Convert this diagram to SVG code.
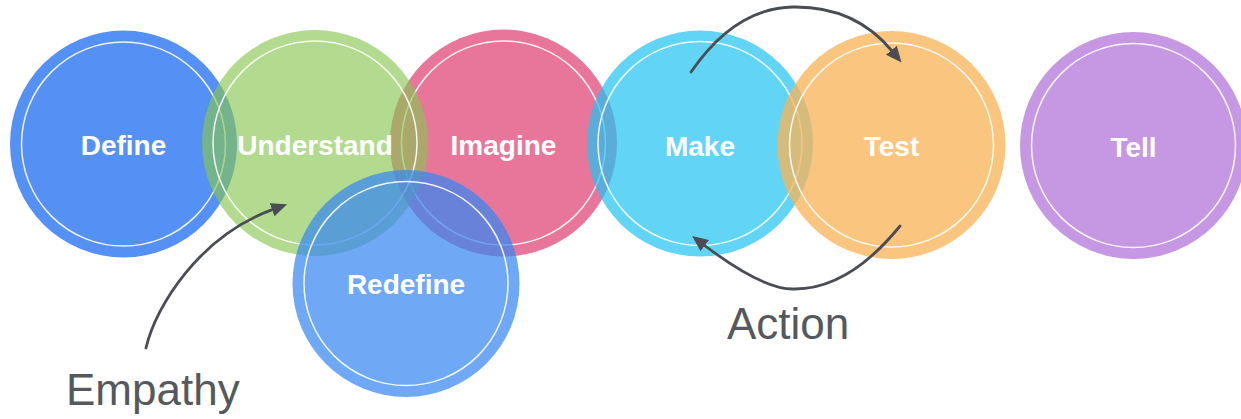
<svg xmlns="http://www.w3.org/2000/svg" width="1241" height="419" viewBox="0 0 1241 419">
<defs>
<style>
.fill{stroke:none}
.ring{fill:none;stroke:#ffffff;stroke-width:1.5;stroke-opacity:0.9}
.lbl{font-family:"Liberation Sans",Arial,Helvetica,sans-serif;font-weight:bold;font-size:28px;fill:#ffffff;text-anchor:middle}
.cap{font-family:"Liberation Sans",Arial,Helvetica,sans-serif;font-size:44px;fill:#55585d}
.arrow{fill:none;stroke:#4a4d53;stroke-width:2.8;stroke-linecap:round}
</style>
<marker id="ah" markerUnits="userSpaceOnUse" markerWidth="16" markerHeight="14" viewBox="0 0 16 14" refX="1" refY="7" orient="auto">
<path d="M0,0 L16,7 L0,14 Z" fill="#4a4d53"/>
</marker>
</defs>
<rect width="1241" height="419" fill="#ffffff"/>

<g id="define">
<circle class="fill" cx="123.5" cy="144" r="113.5" fill="#5590f5"/>
<circle class="ring" cx="123.5" cy="144" r="102"/>
<text class="lbl" x="123.5" y="155">Define</text>
</g>

<g id="imagine">
<circle class="fill" cx="503.5" cy="143" r="113.5" fill="#e8769b"/>
<circle class="ring" cx="503.5" cy="143" r="102"/>
<text class="lbl" x="503.5" y="155">Imagine</text>
</g>

<g id="understand">
<circle class="fill" cx="315" cy="143" r="113" fill="#87c750" fill-opacity="0.64"/>
<circle class="ring" cx="315" cy="143" r="102"/>
<text class="lbl" x="315" y="155">Understand</text>
</g>

<g id="redefine">
<circle class="fill" cx="406" cy="283.5" r="113.5" fill="#3786f1" fill-opacity="0.72"/>
<circle class="ring" cx="406" cy="283.5" r="102"/>
<text class="lbl" x="406" y="294">Redefine</text>
</g>

<g id="make">
<circle class="fill" cx="700" cy="143.5" r="113" fill="#1fc3f4" fill-opacity="0.7"/>
<circle class="ring" cx="700" cy="143.5" r="102"/>
<text class="lbl" x="700" y="156">Make</text>
</g>

<g id="test">
<circle class="fill" cx="891.5" cy="145" r="114" fill="#f8b457" fill-opacity="0.77"/>
<circle class="ring" cx="891.5" cy="145" r="102"/>
<text class="lbl" x="891.5" y="156">Test</text>
</g>

<g id="tell">
<circle class="fill" cx="1133.5" cy="145.5" r="113.5" fill="#c698e3"/>
<circle class="ring" cx="1133.5" cy="145.5" r="102"/>
<text class="lbl" x="1133.5" y="157">Tell</text>
</g>

<g id="connectors">
<path class="arrow" d="M146,348 C156,305 200,236 273,209.4" marker-end="url(#ah)"/>
<path class="arrow" d="M691,72 Q735,8 793,7 Q855,6 892,51" marker-end="url(#ah)"/>
<path class="arrow" d="M900,226 Q848,290 793,289 Q762,289 704,245" marker-end="url(#ah)"/>
</g>

<g id="labels">
<text class="cap" x="66" y="405">Empathy</text>
<text class="cap" x="727" y="339">Action</text>
</g>
</svg>
